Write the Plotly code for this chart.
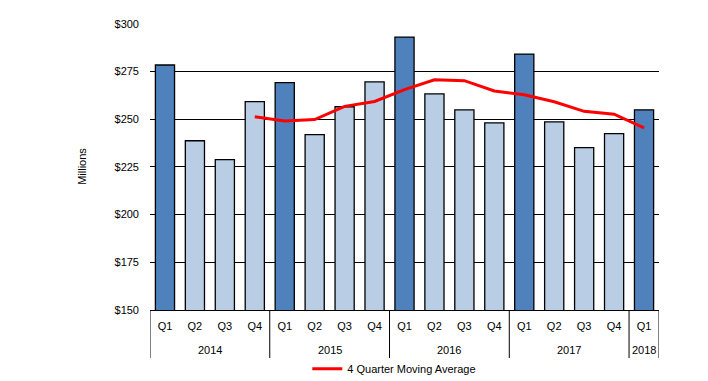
import plotly.graph_objects as go

years = ["2014"] * 4 + ["2015"] * 4 + ["2016"] * 4 + ["2017"] * 4 + ["2018"]
quarters = ["Q1", "Q2", "Q3", "Q4"] * 4 + ["Q1"]
revenue = [278.4, 238.7, 228.8, 259.2,
           269.2, 241.9, 256.5, 269.5,
           293.0, 263.3, 254.9, 248.1,
           284.1, 248.6, 235.1, 242.4,
           254.9]
ma_years = ["2014"] + ["2015"] * 4 + ["2016"] * 4 + ["2017"] * 4 + ["2018"]
ma_quarters = ["Q4"] + ["Q1", "Q2", "Q3", "Q4"] * 3 + ["Q1"]
moving_avg = [251.3, 249.0, 249.8, 256.7, 259.3,
              265.5, 270.6, 270.2, 264.8,
              262.8, 259.1, 254.1, 252.6, 245.4]
y_ticks = [150, 175, 200, 225, 250, 275, 300]
y_labels = ["$150", "$175", "$200", "$225", "$250", "$275", "$300"]

dark = "#4F81BD"
light = "#B9CDE5"
colors = [dark if q == "Q1" else light for q in quarters]

font = dict(family="Liberation Sans, Arial, sans-serif", size=11, color="#000000")

# category positions derived from data
pos = list(range(len(quarters)))
index_of = {(y, q): i for i, (y, q) in enumerate(zip(years, quarters))}
ma_pos = [index_of[(y, q)] for y, q in zip(ma_years, ma_quarters)]

# year groups
groups = []
for i, y in enumerate(years):
    if not groups or groups[-1][0] != y:
        groups.append([y, i, i])
    else:
        groups[-1][2] = i

fig = go.Figure()
fig.add_trace(go.Bar(
    x=pos, y=revenue,
    marker=dict(color=colors, line=dict(color="#000000", width=1.3)),
    showlegend=False, name="Revenue",
))
fig.add_trace(go.Scatter(
    x=ma_pos, y=moving_avg, mode="lines",
    line=dict(color="#FF0000", width=3),
    name="4 Quarter Moving Average",
))

label_y = -40 / 287
div_bottom = -48 / 287
annotations = []
shapes = []
for y, start, end in groups:
    annotations.append(dict(
        x=(start + end) / 2, y=label_y, xref="x", yref="paper", text=y,
        showarrow=False, yanchor="middle", font=font,
    ))
    shapes.append(dict(type="line", xref="x", yref="paper", x0=start - 0.5, x1=start - 0.5,
                       y0=0, y1=div_bottom, line=dict(color="#000000", width=1)))
shapes.append(dict(type="line", xref="x", yref="paper", x0=groups[-1][2] + 0.5,
                   x1=groups[-1][2] + 0.5, y0=0, y1=div_bottom,
                   line=dict(color="#000000", width=1)))

fig.update_layout(
    width=708, height=381,
    margin=dict(l=150, r=49, t=23, b=71),
    paper_bgcolor="#FFFFFF", plot_bgcolor="#FFFFFF",
    font=font,
    bargap=0.36,
    showlegend=True,
    legend=dict(orientation="h", x=0.48, xanchor="center",
                yref="container", y=0.032, yanchor="middle",
                font=dict(size=11), bgcolor="rgba(0,0,0,0)"),
    xaxis=dict(
        range=[-0.5, len(pos) - 0.5], tickvals=pos, ticktext=quarters,
        showline=True, linecolor="#000000", linewidth=1,
        showgrid=False, zeroline=False, ticks="", ticklabelstandoff=6,
        tickfont=font, automargin=False,
    ),
    yaxis=dict(
        range=[150, 300.4], tickvals=y_ticks, ticktext=y_labels,
        showgrid=True, gridcolor="#000000", gridwidth=1, showline=False,
        zeroline=False, ticks="", ticklabelstandoff=10, tickfont=font,
        title=dict(text="Millions", font=font, standoff=25), automargin=False,
    ),
    annotations=annotations,
    shapes=shapes,
)

fig.write_html("out.html", post_script="document.body.style.margin='0';",
               config={"displayModeBar": False})
